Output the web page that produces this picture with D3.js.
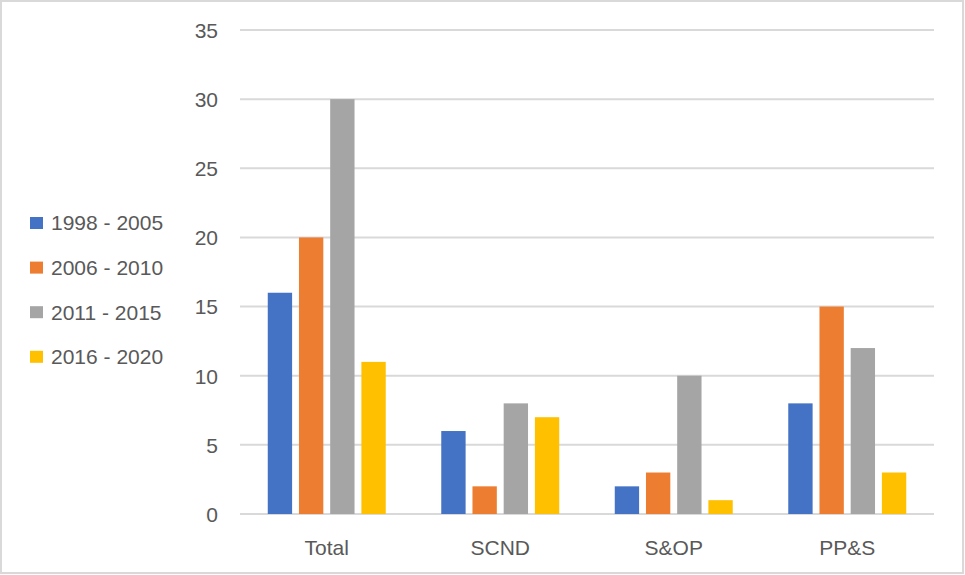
<!DOCTYPE html>
<html><head><meta charset="utf-8">
<script src="https://cdn.jsdelivr.net/npm/d3@7"></script>
<style>html,body{margin:0;padding:0;background:#fff;}svg{display:block;}</style>
</head><body>
<script>
const categories = ["Total", "SCND", "S&OP", "PP&S"];
const seriesNames = ["1998 - 2005", "2006 - 2010", "2011 - 2015", "2016 - 2020"];
const s1998 = [16, 6, 2, 8];
const s2006 = [20, 2, 3, 15];
const s2011 = [30, 8, 10, 12];
const s2016 = [11, 7, 1, 3];
const yTicks = [0, 5, 10, 15, 20, 25, 30, 35];
const colors = ["#4472C4", "#ED7D31", "#A5A5A5", "#FFC000"];
const seriesValues = [s1998, s2006, s2011, s2016];

const W = 965, H = 575;
const font = "'Liberation Sans', Arial, sans-serif";
const svg = d3.select("body").append("svg").attr("width", W).attr("height", H);
svg.append("rect").attr("x", 1).attr("y", 1).attr("width", W - 3).attr("height", H - 3)
  .attr("fill", "#fff").attr("stroke", "#D9D9D9").attr("stroke-width", 2);

const plotL = 240, plotR = 934, plotT = 30, plotB = 514;
const y = d3.scaleLinear().domain([0, 35]).range([plotB, plotT]);
const x = d3.scaleBand().domain(categories).range([plotL, plotR]).paddingInner(0.32).paddingOuter(0.16);
const xs = d3.scaleBand().domain(d3.range(seriesNames.length)).range([0, x.bandwidth()]).paddingInner(0.22);

// grid
svg.append("g").selectAll("line").data(yTicks).join("line")
  .attr("x1", plotL).attr("x2", plotR)
  .attr("y1", d => y(d)).attr("y2", d => y(d))
  .attr("stroke", "#D9D9D9").attr("stroke-width", 2);

// y axis labels
const yAxis = d3.axisLeft(y).tickValues(yTicks).tickSize(0).tickPadding(0);
const ya = svg.append("g").attr("transform", `translate(${plotL - 22},0)`).call(yAxis);
ya.select(".domain").remove();
ya.selectAll("text").attr("font-family", font).attr("font-size", 21).attr("fill", "#595959").attr("dy", "0.35em");

// bars
const groups = svg.append("g").selectAll("g").data(categories).join("g")
  .attr("transform", d => `translate(${x(d)},0)`);
groups.selectAll("rect").data((c, ci) => seriesValues.map((s, si) => ({ si, v: s[ci] }))).join("rect")
  .attr("x", d => xs(d.si)).attr("width", xs.bandwidth())
  .attr("y", d => y(d.v)).attr("height", d => y(0) - y(d.v))
  .attr("fill", d => colors[d.si]);

// x axis labels
const xAxis = d3.axisBottom(x).tickSize(0).tickPadding(0);
const xa = svg.append("g").attr("transform", `translate(0,${plotB + 26})`).call(xAxis);
xa.select(".domain").remove();
xa.selectAll("text").attr("font-family", font).attr("font-size", 21).attr("fill", "#595959").attr("dy", "0.71em");

// legend
const leg = svg.append("g").selectAll("g").data(seriesNames).join("g")
  .attr("transform", (d, i) => `translate(30,${223 + i * 44.6})`);
leg.append("rect").attr("x", 0).attr("y", -6).attr("width", 13).attr("height", 12)
  .attr("fill", (d, i) => colors[i]);
leg.append("text").attr("x", 21).attr("y", 0).attr("dy", "0.35em")
  .attr("font-family", font).attr("font-size", 21).attr("fill", "#595959").text(d => d);
</script>
</body></html>
